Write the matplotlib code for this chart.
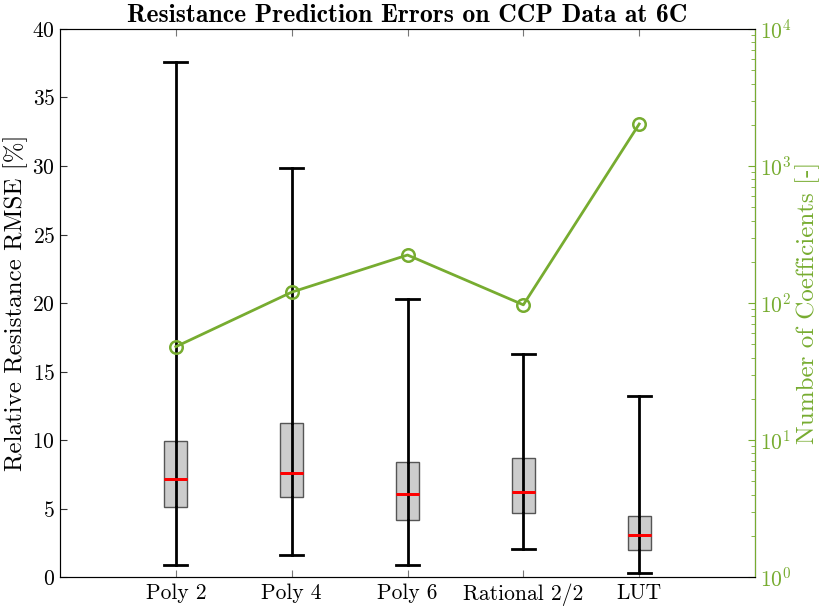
import numpy as np
import matplotlib.pyplot as plt

plt.rcParams['font.family'] = ['cmr10', 'DejaVu Serif']
plt.rcParams['mathtext.fontset'] = 'cm'
plt.rcParams['axes.formatter.use_mathtext'] = True
plt.rcParams['axes.unicode_minus'] = False

labels = ['Poly 2', 'Poly 4', 'Poly 6', 'Rational 2/2', 'LUT']
whislo = [0.87, 1.6, 0.88, 2.04, 0.29]
q1 = [5.1, 5.84, 4.16, 4.67, 1.97]
med = [7.15, 7.59, 6.06, 6.2, 3.07]
q3 = [9.93, 11.24, 8.39, 8.69, 4.45]
whishi = [37.6, 29.85, 20.3, 16.3, 13.2]
n_coef = [48, 120, 224, 97, 2025]

green = '#77AC30'

fig = plt.figure(figsize=(8.24, 6.09), dpi=100)
ax = fig.add_axes([0.0728, 0.0525, 0.8435, 0.8999])

stats = []
for i in range(len(labels)):
    stats.append({'whislo': whislo[i], 'q1': q1[i], 'med': med[i], 'q3': q3[i],
                  'whishi': whishi[i], 'fliers': [], 'label': labels[i]})
pos = np.arange(1, len(labels) + 1)
ax.bxp(stats, positions=pos, widths=0.2, patch_artist=True, showfliers=False,
       boxprops=dict(facecolor='#cccccc', edgecolor='#555555', linewidth=1),
       whiskerprops=dict(color='black', linewidth=2),
       capprops=dict(color='black', linewidth=2),
       medianprops=dict(color='red', linewidth=2), capwidths=0.2)
# whisker runs through the box in the original
ax.vlines(pos, q1, q3, color='black', linewidth=2, zorder=3)
ax.hlines(med, pos - 0.1, pos + 0.1, color='red', linewidth=2, zorder=4)

ax.set_xlim(0, 6)
ax.set_ylim(0, 40)
ax.set_xticks(pos)
ax.set_xticklabels(labels, fontsize=15.5)
ax.set_yticks(np.arange(0, 41, 5))
ax.tick_params(axis='y', labelsize=15.5, direction='in', length=5, color='#333333')
ax.tick_params(axis='x', direction='in', length=5, top=True, color='#777777', pad=5)
ax.set_ylabel('Relative Resistance RMSE [%]', fontsize=18, labelpad=3)
ax.set_title('Resistance Prediction Errors on CCP Data at 6C', fontsize=18.5,
             fontfamily='cmb10', fontweight='bold', pad=5)
for s in ['left', 'bottom', 'top']:
    ax.spines[s].set_color('#444444')

ax2 = ax.twinx()
ax2.plot(pos, n_coef, '-o', color=green, linewidth=2, markersize=9,
         markerfacecolor='none', markeredgewidth=1.8)
ax2.set_yscale('log')
ax2.set_ylim(1, 1e4)
ax2.tick_params(axis='y', which='both', direction='in', colors=green, labelsize=15.5)
ax2.tick_params(axis='y', which='major', length=5)
ax2.tick_params(axis='y', which='minor', length=3)
ax2.spines['right'].set_color(green)
ax2.set_ylabel('Number of Coefficients [-]', fontsize=18, color=green, labelpad=3)

fig.savefig('out.png', dpi=100)
